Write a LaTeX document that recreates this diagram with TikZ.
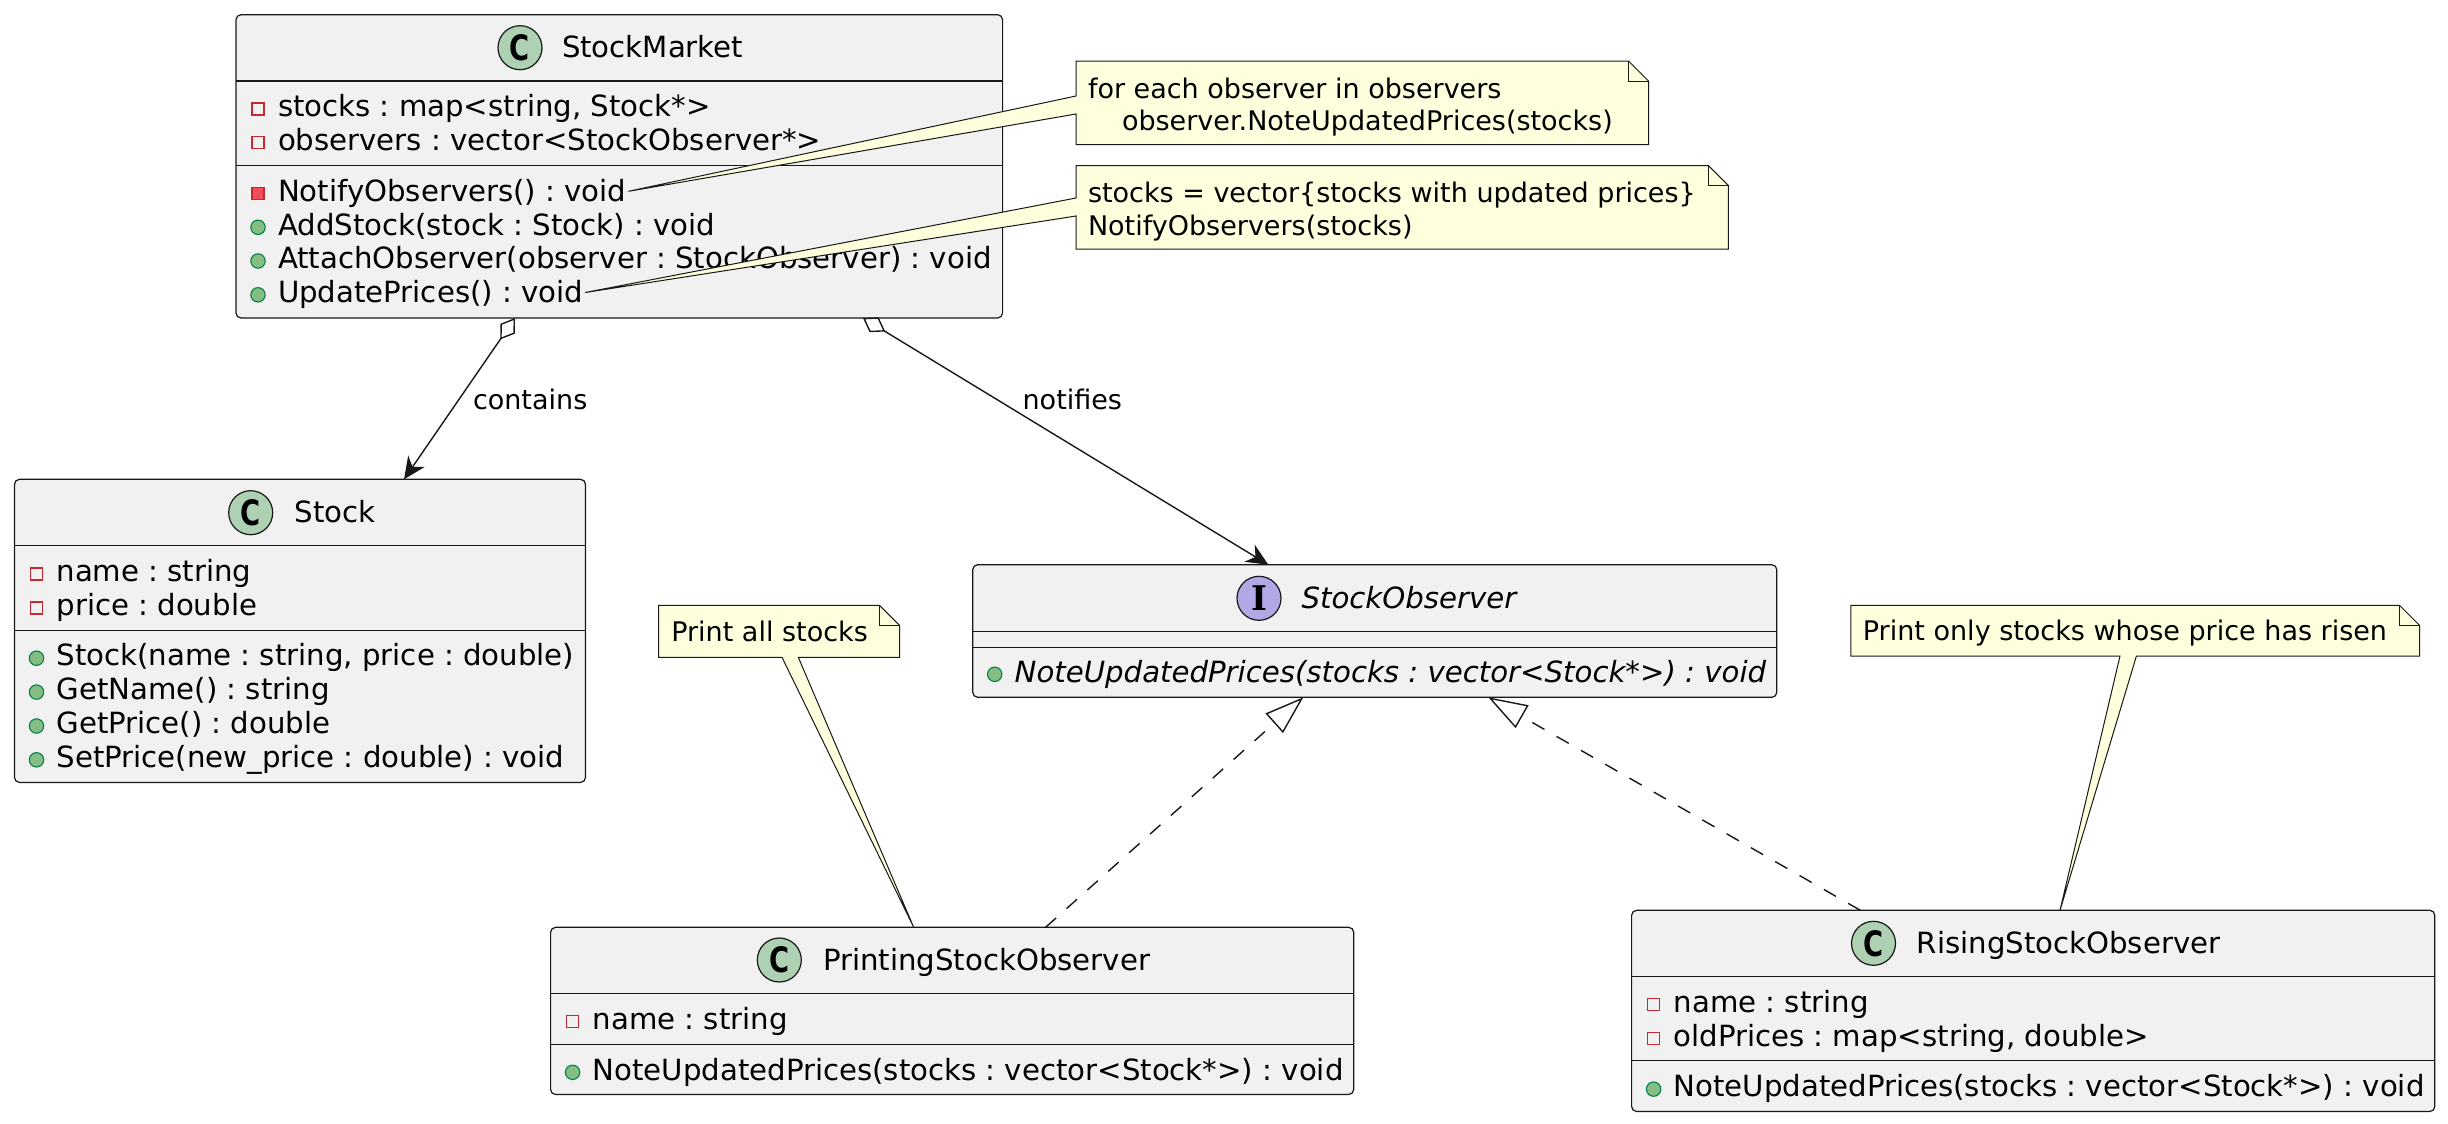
\documentclass[tikz,border=0pt]{standalone}
\usepackage{fontspec}
\setmainfont{DejaVu Sans}
\newfontfamily\spotserif{DejaVu Serif}
\usetikzlibrary{arrows.meta,calc,fit}
\frenchspacing

\definecolor{classbg}{HTML}{F1F1F1}
\definecolor{umlline}{HTML}{181818}
\definecolor{spotgreen}{HTML}{ADD1B2}
\definecolor{spotpurple}{HTML}{B4A7E5}
\definecolor{notebg}{HTML}{FEFFDD}
\definecolor{privred}{HTML}{C82930}
\definecolor{privfill}{HTML}{F24D5C}
\definecolor{pubgreen}{HTML}{038048}
\definecolor{pubfill}{HTML}{84BE84}

\tikzset{
  classbox/.style={rectangle, draw=umlline, fill=classbg, line width=0.6pt,
    rounded corners=2.5pt, inner sep=0pt, outer sep=0pt},
  sepline/.style={draw=umlline, line width=0.55pt},
  member/.style={anchor=west, inner sep=0pt, outer sep=0pt, text height=12pt,
    text depth=2pt, font=\fontsize{14.6}{17}\selectfont},
  spotline/.style={draw=umlline, line width=0.6pt},
  spotletter/.style={inner sep=0pt, outer sep=0pt},
  privline/.style={draw=privred, line width=0.6pt},
  publine/.style={draw=pubgreen, fill=pubfill, line width=0.55pt},
  lbl/.style={anchor=west, inner sep=0pt, outer sep=0pt, text height=11pt,
    text depth=2pt, font=\fontsize{13.5}{15.5}\selectfont},
  notebody/.style={fill=notebg, draw=umlline, line width=0.5pt, line join=miter},
  notetext/.style={anchor=west, inner sep=0pt, outer sep=0pt, text height=11.6pt,
    text depth=2pt, font=\fontsize{13.5}{16}\selectfont},
  assoc/.style={draw=umlline, line width=0.7pt},
  realize/.style={draw=umlline, line width=0.7pt, dash pattern=on 7pt off 7pt,
    -{Triangle[open, length=19.5pt, width=13pt, line width=0.7pt]}},
}

% class header spot with a letter
\newcommand\spotC[3]{%
  \draw[spotline, fill=spotgreen] (#2,#3) circle (11pt);
  \node[spotletter, font=\fontsize{17.5}{17.5}\selectfont\bfseries] (#1) at (#2,#3) {\scalebox{0.78}[1]{C}};}
\newcommand\spotI[3]{%
  \draw[spotline, fill=spotpurple] (#2,#3) circle (11pt);
  \node[spotletter, font=\fontsize{17}{17}\spotserif\bfseries] (#1) at (#2,#3) {I};}
% members: node name, left edge of the class, line centre, text
\newcommand\attrpriv[4]{%
  \draw[privline] (#2+16,#3-3.7) rectangle (#2+28,#3+8.3);
  \node[member] (#1) at (#2+42,#3) {#4};}
\newcommand\methpriv[4]{%
  \draw[privline, fill=privfill] (#2+16,#3-3.7) rectangle (#2+28,#3+8.3);
  \node[member] (#1) at (#2+42,#3) {#4};}
\newcommand\methpub[4]{%
  \draw[publine] (#2+22,#3+2.3) circle (3.6pt);
  \node[member] (#1) at (#2+42,#3) {#4};}

\begin{document}
\begin{tikzpicture}[x=0.5pt, y=-0.5pt]
\fill[white] (0,0) rectangle (2448,1124);
\useasboundingbox (0,0) rectangle (2448,1124);

% ---------- StockMarket ----------
\node[classbox, fit={(236,14.7) (1002.6,318)}] (sm) {};
\draw[sepline] (236,81) -- (1002.6,81);
\draw[sepline] (236,165.7) -- (1002.6,165.7);
\spotC{smS}{520}{47.7}
\node[member] (smT) at (562,47.7) {StockMarket};
\attrpriv{smA}{236}{106.7}{stocks : map<string, Stock*>}
\attrpriv{smB}{236}{140.2}{observers : vector<StockObserver*>}
\methpriv{smC}{236}{191.3}{NotifyObservers() : void}
\methpub{smD}{236}{225}{AddStock(stock : Stock) : void}
\methpub{smE}{236}{258.7}{AttachObserver(observer : StockObserver) : void}
\methpub{smF}{236}{292.5}{UpdatePrices() : void}

% ---------- Stock ----------
\node[classbox, fit={(14.5,479.3) (585.5,782.5)}] (st) {};
\draw[sepline] (14.5,545.7) -- (585.5,545.7);
\draw[sepline] (14.5,630.4) -- (585.5,630.4);
\spotC{stS}{250.7}{512.7}
\node[member] (stT) at (294.7,512.7) {Stock};
\attrpriv{stA}{14.5}{571.7}{name : string}
\attrpriv{stB}{14.5}{605.6}{price : double}
\methpub{stC}{14.5}{655.9}{Stock(name : string, price : double)}
\methpub{stD}{14.5}{689.8}{GetName() : string}
\methpub{stE}{14.5}{723.7}{GetPrice() : double}
\methpub{stF}{14.5}{757.5}{SetPrice(new\_price : double) : void}

% ---------- StockObserver (interface) ----------
\node[classbox, fit={(972.7,564.7) (1776.8,697.3)}] (so) {};
\draw[sepline] (972.7,631.3) -- (1776.8,631.3);
\draw[sepline] (972.7,647.3) -- (1776.8,647.3);
\spotI{soS}{1259}{598.3}
\node[member, font=\fontsize{14.6}{17}\selectfont\itshape] (soT) at (1301.5,598.3) {StockObserver};
\methpub{soA}{972.7}{672}{\itshape NoteUpdatedPrices(stocks : vector<Stock*>) : void}

% ---------- PrintingStockObserver ----------
\node[classbox, fit={(550.6,927.3) (1353.7,1094.5)}] (pso) {};
\draw[sepline] (550.6,993.3) -- (1353.7,993.3);
\draw[sepline] (550.6,1044.3) -- (1353.7,1044.3);
\spotC{psoS}{779.3}{960}
\node[member] (psoT) at (823,960) {PrintingStockObserver};
\attrpriv{psoA}{550.6}{1019.5}{name : string}
\methpub{psoB}{550.6}{1070}{NoteUpdatedPrices(stocks : vector<Stock*>) : void}

% ---------- RisingStockObserver ----------
\node[classbox, fit={(1631.6,910.3) (2434.8,1111.5)}] (rso) {};
\draw[sepline] (1631.6,976.3) -- (2434.8,976.3);
\draw[sepline] (1631.6,1060.8) -- (2434.8,1060.8);
\spotC{rsoS}{1873.5}{943.3}
\node[member] (rsoT) at (1916.8,943.3) {RisingStockObserver};
\attrpriv{rsoA}{1631.6}{1002.3}{name : string}
\attrpriv{rsoB}{1631.6}{1036}{oldPrices : map<string, double>}
\methpub{rsoC}{1631.6}{1086.8}{NoteUpdatedPrices(stocks : vector<Stock*>) : void}

% ---------- relations ----------
\coordinate (aggA) at ($(sm.south west)+(279,0)$);
\coordinate (aggB) at ($(st.north west)+(389.5,0)$);
\draw[assoc, {Diamond[open, length=13pt, width=8.7pt, line width=0.7pt]}-{Stealth[length=11pt, width=10pt, inset=3.5pt]}]
  (aggA) -- (aggB);
\node[lbl] (lblContains) at (473,400) {contains};

\coordinate (ntfA) at ($(sm.south west)+(627,0)$);
\coordinate (ntfB) at ($(so.north west)+(295.6,0)$);
\draw[assoc, {Diamond[open, length=13pt, width=8.7pt, line width=0.7pt]}-{Stealth[length=11pt, width=10pt, inset=3.5pt]}]
  (ntfA) -- (ntfB);
\node[lbl] (lblNotifies) at (1022.6,400) {notifies};

\coordinate (psoUp) at ($(pso.north west)+(495,0)$);
\coordinate (soDownL) at ($(so.south west)+(330.6,0)$);
\draw[realize] (psoUp) -- (soDownL);

\coordinate (rsoUp) at ($(rso.north west)+(228.7,0)$);
\coordinate (soDownR) at ($(so.south west)+(515.6,0)$);
\draw[realize] (rsoUp) -- (soDownR);

% ---------- notes ----------
\filldraw[notebody] (1076,61) -- (1628.5,61) -- (1648.5,81) -- (1648.5,144.5)
  -- (1076,144.5) -- (1076,114) -- ([xshift=1pt]smC.east) -- (1076,96) -- cycle;
\draw[notebody, fill=none] (1628.5,61) -- (1628.5,81) -- (1648.5,81);
\node[notetext] (n1a) at (1088,88.5) {for each observer in observers};
\node[notetext] (n1b) at (1088,121) {\hspace*{17pt}observer.NoteUpdatedPrices(stocks)};

\filldraw[notebody] (1076,165.5) -- (1708.3,165.5) -- (1728.3,185.5) -- (1728.3,249)
  -- (1076,249) -- (1076,216) -- ([xshift=1pt]smF.east) -- (1076,198) -- cycle;
\draw[notebody, fill=none] (1708.3,165.5) -- (1708.3,185.5) -- (1728.3,185.5);
\node[notetext] (n2a) at (1088,193) {stocks = vector\{stocks with updated prices\}};
\node[notetext] (n2b) at (1088,225.5) {NotifyObservers(stocks)};

\coordinate (n3tip) at ($(pso.north west)+(363.1,0)$);
\filldraw[notebody] (658.6,605.3) -- (879.5,605.3) -- (899.5,625.3) -- (899.5,657.3)
  -- (798.3,657.3) -- (n3tip) -- (782,657.3) -- (658.6,657.3) -- cycle;
\draw[notebody, fill=none] (879.5,605.3) -- (879.5,625.3) -- (899.5,625.3);
\node[notetext] (n3a) at (671.3,631.5) {Print all stocks};

\coordinate (n4tip) at ($(rso.north west)+(428.4,0)$);
\filldraw[notebody] (1850.8,605.3) -- (2399.5,605.3) -- (2419.5,625.3) -- (2419.5,656)
  -- (2136.4,656) -- (n4tip) -- (2120,656) -- (1850.8,656) -- cycle;
\draw[notebody, fill=none] (2399.5,605.3) -- (2399.5,625.3) -- (2419.5,625.3);
\node[notetext] (n4a) at (1862.9,631) {Print only stocks whose price has risen};
\end{tikzpicture}
\end{document}
